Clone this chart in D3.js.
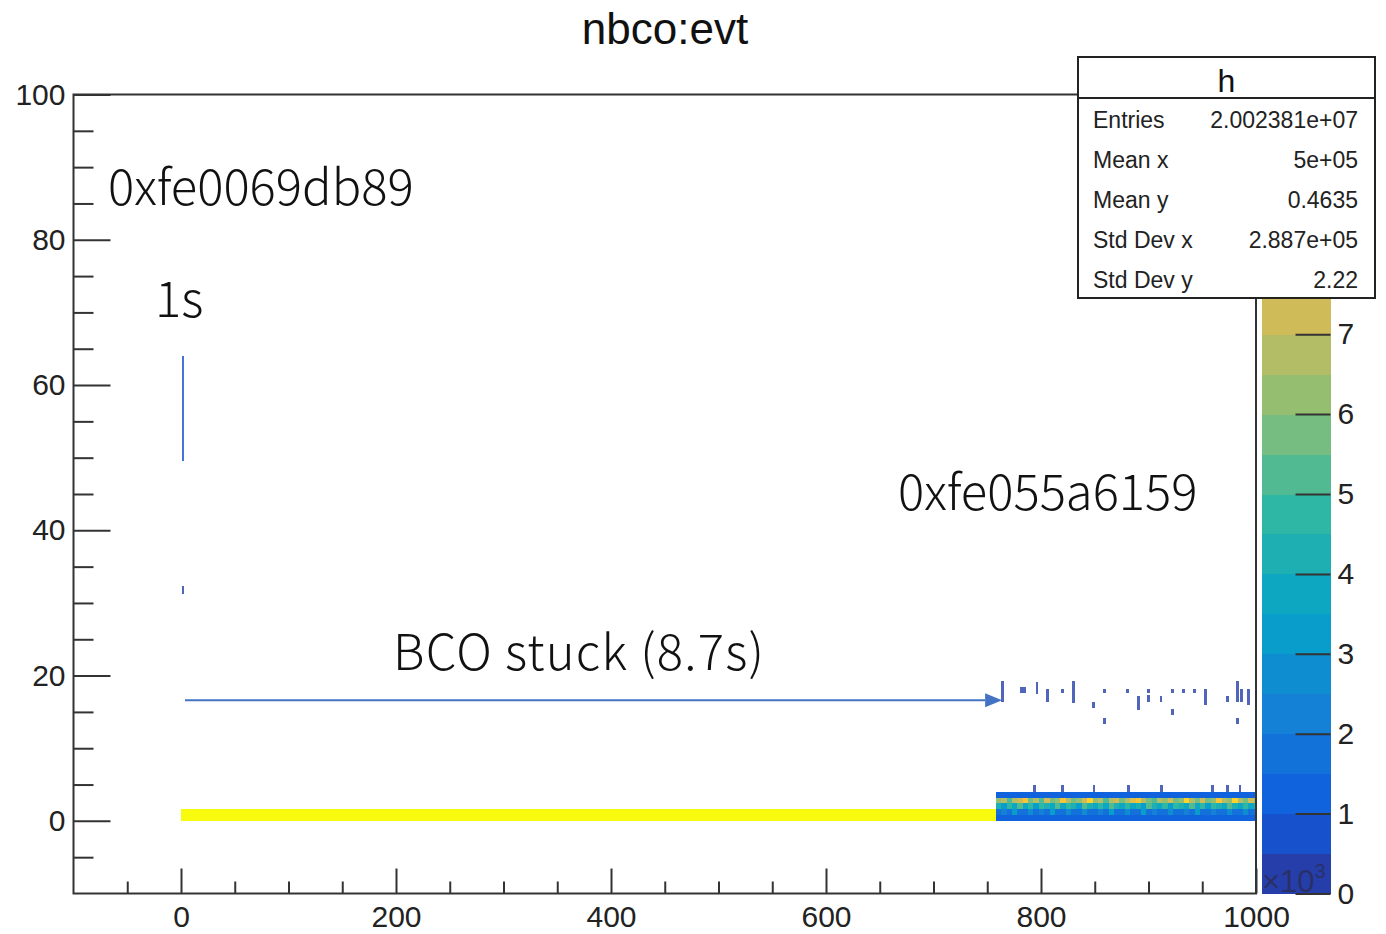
<!DOCTYPE html>
<html>
<head>
<meta charset="utf-8">
<script src="https://cdn.jsdelivr.net/npm/d3@7"></script>
<style>
  body { margin: 0; background: #fff; }
  svg { display: block; font-family: "Liberation Sans", Arial, Helvetica, sans-serif; }
  .axis text { fill: #222; }
  .axis line { stroke: #333; stroke-width: 2; }
  .note { font-family: "Noto Sans CJK JP", "Noto Sans", sans-serif; font-weight: 300; fill: #111; }
</style>
</head>
<body>
<svg id="chart" width="1386" height="934"></svg>
<script>
// axis ranges (x in units of 10^3 events, z in units of 10^3 counts)
const X_DOMAIN = [-100, 1000];
const Y_DOMAIN = [-10, 100];
const Z_DOMAIN = [0, 10];
const xTicks = [0, 200, 400, 600, 800, 1000];
const yTicks = [0, 20, 40, 60, 80, 100];
const zTicks = [0, 1, 2, 3, 4, 5, 6, 7];

const statLabels = ['Entries', 'Mean x', 'Mean y', 'Std Dev x', 'Std Dev y'];
const statValues = ['2.002381e+07', '5e+05', '0.4635', '2.887e+05', '2.22'];

// binning of the 2D histogram
const yBin = 0.8;
const heatStart = 758;
const heatBinX = 5;

// the long stuck run, nbco stays at 0
const stuckRun = { x0: 0, x1: 758, y0: 0, y1: 1.6, z: 10 };

// heat rows after the stuck period, lower edge of each row in nbco
const heatRowY0 = [0, 0.8, 1.6, 2.4, 3.2];
const heatRow0 = [1.2, 1.3, 1.1, 1.2, 1.4, 1.2, 1.3,
                  1.1, 1.2, 1.3, 1.2, 1.4, 1.1, 1.2,
                  1.3, 1.2, 1.1, 1.3, 1.2, 1.4, 1.2,
                  1.1, 1.3, 1.2, 1.2, 1.3, 1.1, 1.4,
                  1.2, 1.3, 1.2, 1.1, 1.2, 1.3, 1.4,
                  1.2, 1.1, 1.3, 1.2, 1.2, 1.3, 1.1,
                  1.2, 1.4, 1.3, 1.2, 1.1, 1.3, 1.2];
const heatRow1 = [1.6, 2.4, 1.5, 3.1, 1.7, 1.5, 2.8,
                  1.6, 2.2, 1.5, 3.4, 1.8, 1.5, 2.6,
                  1.7, 1.5, 2.9, 1.6, 1.5, 2.3, 1.6,
                  3.2, 1.5, 1.7, 2.5, 1.5, 1.6, 3.0,
                  1.5, 2.2, 1.7, 1.5, 2.7, 1.6, 1.5,
                  2.4, 1.6, 3.3, 1.5, 1.7, 2.1, 1.5,
                  1.6, 2.9, 1.5, 1.7, 2.5, 1.6, 1.5];
const heatRow2 = [4.2, 3.4, 4.8, 3.6, 5.1, 3.9, 4.5,
                  3.3, 4.9, 4.1, 3.7, 5.4, 3.5, 4.6,
                  4.0, 3.4, 5.2, 4.3, 3.8, 4.7, 3.6,
                  5.0, 4.1, 3.5, 4.8, 3.9, 4.4, 3.2,
                  5.3, 4.0, 3.7, 4.6, 3.4, 4.9, 4.2,
                  3.6, 5.1, 3.8, 4.5, 3.3, 4.7, 4.0,
                  3.5, 5.2, 4.3, 3.7, 4.9, 3.8, 4.4];
const heatRow3 = [6.1, 6.8, 5.4, 6.5, 7.2, 8.2, 5.9,
                  6.6, 5.2, 7.0, 5.8, 6.4, 8.4, 6.7,
                  5.5, 6.2, 7.4, 8.6, 6.0, 6.8, 5.3,
                  6.5, 7.1, 5.6, 6.9, 7.9, 8.3, 6.6,
                  5.8, 5.4, 6.7, 6.1, 7.3, 5.6, 6.4,
                  8.5, 6.8, 5.9, 7.0, 5.5, 6.3, 8.1,
                  6.6, 6.0, 8.6, 6.9, 5.7, 7.2, 6.2];
const heatRow4 = [1.2, 1.1, 1.3, 1.2, 1.2, 1.4, 1.1,
                  1.3, 1.2, 1.2, 1.1, 1.3, 1.2, 1.4,
                  1.2, 1.3, 1.1, 1.2, 1.3, 1.2, 1.1,
                  1.4, 1.2, 1.3, 1.2, 1.1, 1.2, 1.3,
                  1.2, 1.4, 1.1, 1.2, 1.3, 1.2, 1.2,
                  1.1, 1.3, 1.2, 1.4, 1.2, 1.1, 1.3,
                  1.2, 1.2, 1.3, 1.1, 1.2, 1.4, 1.2];
const heatRows = [heatRow0, heatRow1, heatRow2, heatRow3, heatRow4];

// isolated low count bins: [x left edge, y low, y high, z]
const sparseWidth = 2.5;
const sparseBins = [
  [0.5, 49.5, 64.0, 0.7],
  [0.5, 31.2, 32.4, 0.3],
  [763, 16.3, 19.2, 0.3],
  [780.5, 17.6, 18.4, 0.2],
  [783.5, 17.6, 18.4, 0.2],
  [795, 17.4, 19.1, 0.3],
  [805, 16.3, 18.1, 0.3],
  [818.5, 17.6, 18.2, 0.2],
  [829, 16.2, 19.2, 0.3],
  [847.5, 15.6, 16.4, 0.2],
  [857.5, 17.6, 18.2, 0.2],
  [857.5, 13.3, 14.1, 0.2],
  [879, 17.6, 18.2, 0.2],
  [889.5, 15.2, 17.2, 0.3],
  [898.5, 17.6, 18.2, 0.2],
  [898.5, 16.4, 17.3, 0.2],
  [910.5, 16.3, 17.2, 0.2],
  [921, 17.6, 18.2, 0.2],
  [921, 14.6, 15.4, 0.2],
  [931, 17.6, 18.2, 0.2],
  [941.5, 17.6, 18.2, 0.2],
  [951.5, 16.0, 18.2, 0.3],
  [972, 16.3, 17.2, 0.2],
  [981.5, 16.3, 19.2, 0.3],
  [981.5, 13.3, 14.1, 0.2],
  [985, 16.3, 18.2, 0.3],
  [991.5, 16.0, 18.2, 0.3],
  [793, 4.0, 5.0, 0.3],
  [819, 4.0, 5.0, 0.3],
  [848, 4.0, 5.0, 0.3],
  [880, 4.0, 5.0, 0.3],
  [911, 4.0, 5.0, 0.3],
  [958, 4.0, 5.0, 0.3],
  [972, 4.0, 5.0, 0.3],
  [984, 4.0, 5.0, 0.3]
];

// slide annotations, in data coordinates
const notes = [
  { text: '0xfe0069db89', x: -67.9, y: 84.8 },
  { text: '1s', x: -24.2, y: 69.4 },
  { text: '0xfe055a6159', x: 667, y: 42.8 },
  { text: 'BCO stuck (8.7s)', x: 197.2, y: 20.8 }
];
const arrow = { x0: 3.7, x1: 748, y: 16.6 };

// ROOT kBird palette
const birdStops = [0.0, 0.125, 0.25, 0.375, 0.5, 0.625, 0.75, 0.875, 1.0];
const birdR = [0.2082, 0.0592, 0.0780, 0.0232, 0.1802, 0.5301, 0.8186, 0.9956, 0.9764];
const birdG = [0.1664, 0.3599, 0.5041, 0.6419, 0.7178, 0.7492, 0.7328, 0.7862, 0.9832];
const birdB = [0.5293, 0.8684, 0.8385, 0.7914, 0.6425, 0.4662, 0.3499, 0.1968, 0.0539];

function bird(t) {
  let i = 0;
  while (i < birdStops.length - 2 && t > birdStops[i + 1]) i++;
  let f = (t - birdStops[i]) / (birdStops[i + 1] - birdStops[i]);
  f = Math.max(0, Math.min(1, f));
  let c = (a) => Math.round(255 * (a[i] + f * (a[i + 1] - a[i])));
  return d3.rgb(c(birdR), c(birdG), c(birdB)).formatHex();
}

const NLEVELS = 20;
const levelColors = d3.range(NLEVELS).map((i) => bird((i + 0.99) / NLEVELS));
const color = d3.scaleQuantize().domain(Z_DOMAIN).range(levelColors);

const svg = d3.select('#chart');
const frame = { left: 73.5, right: 1256, top: 94.5, bottom: 893.5 };

const x = d3.scaleLinear().domain(X_DOMAIN).range([frame.left, frame.right]);
const y = d3.scaleLinear().domain(Y_DOMAIN).range([frame.bottom, frame.top]);
const z = d3.scaleLinear().domain(Z_DOMAIN).range([frame.bottom, frame.top]);

svg.append('defs').append('clipPath').attr('id', 'frame-clip')
  .append('rect')
  .attr('x', frame.left).attr('y', frame.top)
  .attr('width', frame.right - frame.left).attr('height', frame.bottom - frame.top);

// title
svg.append('text')
  .attr('x', 665).attr('y', 44)
  .attr('text-anchor', 'middle')
  .attr('font-size', 44)
  .attr('fill', '#111')
  .text('nbco:evt');

// cells
let cells = [];
cells.push(stuckRun);
heatRows.forEach((row, r) => {
  row.forEach((v, i) => {
    cells.push({ x0: heatStart + i * heatBinX, x1: heatStart + (i + 1) * heatBinX,
                 y0: heatRowY0[r], y1: heatRowY0[r] + yBin, z: v });
  });
});
for (let b of sparseBins) {
  cells.push({ x0: b[0], x1: b[0] + sparseWidth, y0: b[1], y1: b[2], z: b[3], sparse: true });
}

svg.append('g')
  .attr('clip-path', 'url(#frame-clip)')
  .selectAll('rect')
  .data(cells)
  .enter()
  .append('rect')
  .attr('x', (d) => x(d.x0))
  .attr('y', (d) => y(d.y1))
  .attr('width', (d) => x(d.x1) - x(d.x0))
  .attr('height', (d) => y(d.y0) - y(d.y1))
  .attr('fill', (d) => color(Math.min(d.z, Z_DOMAIN[1] - 1e-6)))
  .attr('fill-opacity', (d) => d.sparse ? 0.8 : 1)
  .attr('shape-rendering', 'crispEdges');

// axes
function minorValues(lo, hi, step, majors) {
  return d3.range(lo, hi + 1e-9, step).filter((v) => !majors.includes(v));
}

let xMajor = svg.append('g')
  .attr('class', 'axis')
  .attr('transform', `translate(0,${frame.bottom})`)
  .call(d3.axisBottom(x).tickValues(xTicks).tickSize(-25).tickPadding(12).tickFormat(d3.format('d')));
xMajor.selectAll('text').attr('font-size', 30);
svg.append('g')
  .attr('class', 'axis')
  .attr('transform', `translate(0,${frame.bottom})`)
  .call(d3.axisBottom(x).tickValues(minorValues(-50, 950, 50, xTicks)).tickSize(-12).tickFormat(''));

let yMajor = svg.append('g')
  .attr('class', 'axis')
  .attr('transform', `translate(${frame.left},0)`)
  .call(d3.axisLeft(y).tickValues(yTicks).tickSize(-37).tickPadding(8).tickFormat(d3.format('d')));
yMajor.selectAll('text').attr('font-size', 30);
svg.append('g')
  .attr('class', 'axis')
  .attr('transform', `translate(${frame.left},0)`)
  .call(d3.axisLeft(y).tickValues(minorValues(-5, 95, 5, yTicks)).tickSize(-20).tickFormat(''));

svg.selectAll('.axis .domain').remove();

// frame
svg.append('rect')
  .attr('x', frame.left).attr('y', frame.top)
  .attr('width', frame.right - frame.left).attr('height', frame.bottom - frame.top)
  .attr('fill', 'none').attr('stroke', '#333').attr('stroke-width', 2);

// palette
const pal = { left: 1262, right: 1330.5 };
const levelStep = (Z_DOMAIN[1] - Z_DOMAIN[0]) / NLEVELS;
svg.append('g')
  .selectAll('rect')
  .data(levelColors)
  .enter()
  .append('rect')
  .attr('x', pal.left)
  .attr('y', (d, i) => z((i + 1) * levelStep))
  .attr('width', pal.right - pal.left)
  .attr('height', (d, i) => z(i * levelStep) - z((i + 1) * levelStep) + 0.5)
  .attr('fill', (d) => d)
  .attr('shape-rendering', 'crispEdges');

let zAxis = svg.append('g')
  .attr('class', 'axis')
  .attr('transform', `translate(${pal.right},0)`)
  .call(d3.axisRight(z).tickValues(zTicks).tickSize(-35).tickPadding(7).tickFormat(d3.format('d')));
zAxis.select('.domain').remove();
zAxis.selectAll('text').attr('font-size', 30);
zAxis.selectAll('line').attr('stroke', '#111');

let expo = svg.append('text')
  .attr('x', pal.left).attr('y', frame.bottom - 2)
  .attr('font-size', 31)
  .attr('fill', '#2b2b55')
  .attr('fill-opacity', 0.8);
expo.append('tspan').text('\u00d710');
expo.append('tspan').attr('dy', -14).attr('font-size', 20).text('3');

// stats box
const box = { x: 1078, y: 57, w: 297, h: 241, head: 41 };
let stats = svg.append('g');
stats.append('rect')
  .attr('x', box.x).attr('y', box.y).attr('width', box.w).attr('height', box.h)
  .attr('fill', '#fff').attr('stroke', '#222').attr('stroke-width', 2);
stats.append('line')
  .attr('x1', box.x).attr('x2', box.x + box.w)
  .attr('y1', box.y + box.head).attr('y2', box.y + box.head)
  .attr('stroke', '#222').attr('stroke-width', 2);
stats.append('text')
  .attr('x', box.x + box.w / 2).attr('y', box.y + 35)
  .attr('text-anchor', 'middle').attr('font-size', 32).attr('fill', '#111')
  .text('h');
const rowStep = (box.h - box.head) / statLabels.length;
statLabels.forEach((lab, i) => {
  let by = box.y + box.head + rowStep * i + rowStep / 2 + 10;
  stats.append('text')
    .attr('x', box.x + 15).attr('y', by)
    .attr('font-size', 23).attr('fill', '#222')
    .text(lab);
  stats.append('text')
    .attr('x', box.x + box.w - 17).attr('y', by)
    .attr('text-anchor', 'end').attr('font-size', 23).attr('fill', '#222')
    .text(statValues[i]);
});

// annotations from the slide
svg.append('defs').append('marker')
  .attr('id', 'arrowhead')
  .attr('markerUnits', 'userSpaceOnUse')
  .attr('markerWidth', 18).attr('markerHeight', 16)
  .attr('refX', 0).attr('refY', 8)
  .attr('orient', 'auto')
  .append('path')
  .attr('d', 'M0,1 L17,8 L0,15 Z')
  .attr('fill', '#4472c4');

svg.append('line')
  .attr('x1', x(arrow.x0)).attr('x2', x(arrow.x1))
  .attr('y1', y(arrow.y)).attr('y2', y(arrow.y))
  .attr('stroke', '#4472c4').attr('stroke-width', 2)
  .attr('marker-end', 'url(#arrowhead)');

svg.selectAll('.note')
  .data(notes)
  .enter()
  .append('text')
  .attr('class', 'note')
  .attr('x', (d) => x(d.x))
  .attr('y', (d) => y(d.y))
  .attr('font-size', 49)
  .attr('letter-spacing', (d) => d.text.includes(' ') ? 1.2 : 0)
  .text((d) => d.text);
</script>
</body>
</html>
